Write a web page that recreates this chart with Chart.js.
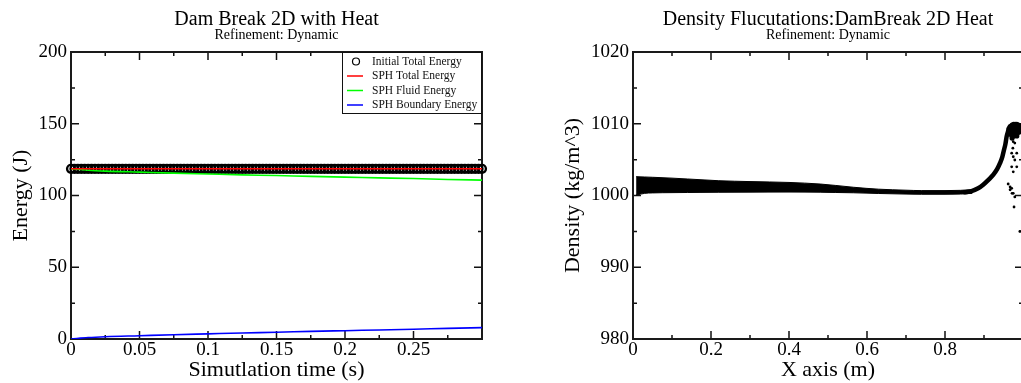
<!DOCTYPE html>
<html><head><meta charset="utf-8">
<script src="https://cdn.jsdelivr.net/npm/chart.js@4.4.1/dist/chart.umd.min.js"></script>
<style>
html,body{margin:0;padding:0;overflow:hidden;background:#fff;width:1021px;height:383px;}
#w1{position:absolute;left:0;top:0;width:510px;height:383px;}
#w2{position:absolute;left:510px;top:0;width:520px;height:383px;}
canvas{display:block;}
</style></head><body>
<div id="w1"><canvas id="c1" width="510" height="383"></canvas></div>
<div id="w2"><canvas id="c2" width="520" height="383"></canvas></div>
<script>
// ---------- Left chart data: energy ----------
const energyTime = [0, 0.0125, 0.025, 0.05, 0.075, 0.1, 0.125, 0.15, 0.175, 0.2, 0.225, 0.25, 0.275, 0.3];
const sphTotalEnergy = [118.6, 118.6, 118.6, 118.6, 118.6, 118.6, 118.6, 118.6, 118.6, 118.6, 118.6, 118.6, 118.6, 118.6];
const sphFluidEnergy = [118.6, 117.6, 117.0, 116.3, 115.6, 115.0, 114.4, 113.9, 113.3, 112.8, 112.3, 111.8, 111.2, 110.7];
const sphBoundaryEnergy = [0, 1.0, 1.6, 2.3, 3.0, 3.6, 4.2, 4.7, 5.3, 5.8, 6.3, 6.8, 7.4, 7.9];
const markerTime = [0,0.0025,0.005,0.0075,0.01,0.0125,0.015,0.0175,0.02,0.0225,0.025,0.0275,0.03,0.0325,0.035,0.0375,0.04,0.0425,0.045,0.0475,
  0.05,0.0525,0.055,0.0575,0.06,0.0625,0.065,0.0675,0.07,0.0725,0.075,0.0775,0.08,0.0825,0.085,0.0875,0.09,0.0925,0.095,0.0975,
  0.1,0.1025,0.105,0.1075,0.11,0.1125,0.115,0.1175,0.12,0.1225,0.125,0.1275,0.13,0.1325,0.135,0.1375,0.14,0.1425,0.145,0.1475,
  0.15,0.1525,0.155,0.1575,0.16,0.1625,0.165,0.1675,0.17,0.1725,0.175,0.1775,0.18,0.1825,0.185,0.1875,0.19,0.1925,0.195,0.1975,
  0.2,0.2025,0.205,0.2075,0.21,0.2125,0.215,0.2175,0.22,0.2225,0.225,0.2275,0.23,0.2325,0.235,0.2375,0.24,0.2425,0.245,0.2475,
  0.25,0.2525,0.255,0.2575,0.26,0.2625,0.265,0.2675,0.27,0.2725,0.275,0.2775,0.28,0.2825,0.285,0.2875,0.29,0.2925,0.295,0.2975,0.3];
const initialTotalEnergy = [118.6,118.6,118.6,118.6,118.6,118.6,118.6,118.6,118.6,118.6,118.6,118.6,118.6,118.6,118.6,118.6,118.6,118.6,118.6,118.6,
  118.6,118.6,118.6,118.6,118.6,118.6,118.6,118.6,118.6,118.6,118.6,118.6,118.6,118.6,118.6,118.6,118.6,118.6,118.6,118.6,
  118.6,118.6,118.6,118.6,118.6,118.6,118.6,118.6,118.6,118.6,118.6,118.6,118.6,118.6,118.6,118.6,118.6,118.6,118.6,118.6,
  118.6,118.6,118.6,118.6,118.6,118.6,118.6,118.6,118.6,118.6,118.6,118.6,118.6,118.6,118.6,118.6,118.6,118.6,118.6,118.6,
  118.6,118.6,118.6,118.6,118.6,118.6,118.6,118.6,118.6,118.6,118.6,118.6,118.6,118.6,118.6,118.6,118.6,118.6,118.6,118.6,
  118.6,118.6,118.6,118.6,118.6,118.6,118.6,118.6,118.6,118.6,118.6,118.6,118.6,118.6,118.6,118.6,118.6,118.6,118.6,118.6,118.6];
const energyXMajor = [0, 0.05, 0.1, 0.15, 0.2, 0.25, 0.3];
const energyXMinor = [0.025, 0.075, 0.125, 0.175, 0.225, 0.275];
const energyYMajor = [0, 50, 100, 150, 200];
const energyYMinor = [25, 75, 125, 175];

// ---------- Right chart data: density ----------
const bandX     = [0.008, 0.03, 0.05, 0.1, 0.14, 0.2, 0.22, 0.3, 0.4, 0.48, 0.52, 0.565, 0.63, 0.7, 0.74, 0.8, 0.84, 0.87];
const bandUpper = [1002.63, 1002.58, 1002.54, 1002.42, 1002.3, 1002.12, 1002.06, 1001.94, 1001.82, 1001.6, 1001.4, 1001.15, 1000.88, 1000.74, 1000.68, 1000.68, 1000.72, 1000.82];
const bandLower = [1000.05, 1000.3, 1000.36, 1000.4, 1000.42, 1000.44, 1000.45, 1000.47, 1000.48, 1000.46, 1000.42, 1000.38, 1000.28, 1000.2, 1000.17, 1000.17, 1000.2, 1000.3];
const riseX = [0.85, 0.868, 0.885, 0.898, 0.912, 0.924, 0.934, 0.941, 0.947, 0.951, 0.955, 0.958, 0.962, 0.966];
const riseY = [1000.45, 1000.6, 1001.0, 1001.5, 1002.2, 1002.9, 1003.7, 1004.5, 1005.4, 1006.3, 1007.2, 1008.2, 1009.0, 1009.6];
const blobX = [0.964,0.968,0.972,0.976,0.980,0.984,0.988,0.991,0.966,0.970,0.974,0.978,0.982,0.986,0.990,0.969,0.973,0.977,0.981,0.985,0.989,0.972,0.976,0.980,0.984];
const blobY = [1009.3,1009.6,1009.8,1009.9,1009.9,1009.9,1009.8,1009.7,1008.9,1009.2,1009.4,1009.5,1009.5,1009.4,1009.3,1008.5,1008.8,1009.0,1009.0,1008.9,1008.8,1008.0,1008.3,1008.5,1008.3];
const sprayX = [0.971, 0.979, 0.975, 0.974, 0.984, 0.971, 0.975, 0.979, 0.984, 0.971, 0.975, 0.962, 0.967, 0.971, 0.967, 0.975, 0.972, 0.979, 0.977, 0.992];
const sprayY = [1008.2, 1007.3, 1007.5, 1006.6, 1005.9, 1005.9, 1005.4, 1004.95, 1004.0, 1004.0, 1003.3, 1001.6, 1001.2, 1001.0, 1000.8, 1000.3, 1000.3, 999.8, 998.4, 995.0];
const densXMajor = [0, 0.2, 0.4, 0.6, 0.8, 1.0];
const densXMinor = [0.1, 0.3, 0.5, 0.7, 0.9];
const densYMajor = [980, 990, 1000, 1010, 1020];
const densYMinor = [985, 995, 1005, 1015];

const SERIF = "'Liberation Serif', 'Times New Roman', serif";
const pts = (xs, ys) => xs.map((x, i) => ({x: x, y: ys[i]}));

// frame + inward ticks on all four sides
const frameTicks = {
  id: 'frameTicks',
  beforeDatasetsDraw(chart, args, o) {
    const {ctx, chartArea: a, scales: {x, y}} = chart;
    ctx.save();
    ctx.strokeStyle = '#111';
    ctx.lineWidth = 1.5;
    ctx.beginPath();
    const vt = (v, len) => { const p = x.getPixelForValue(v);
      ctx.moveTo(p, a.bottom); ctx.lineTo(p, a.bottom - len);
      ctx.moveTo(p, a.top); ctx.lineTo(p, a.top + len); };
    const ht = (v, len) => { const p = y.getPixelForValue(v);
      ctx.moveTo(a.left, p); ctx.lineTo(a.left + len, p);
      ctx.moveTo(a.right, p); ctx.lineTo(a.right - len, p); };
    o.xMajor.forEach(v => vt(v, 8)); o.xMinor.forEach(v => vt(v, 4));
    o.yMajor.forEach(v => ht(v, 8)); o.yMinor.forEach(v => ht(v, 4));
    ctx.stroke();
    ctx.lineWidth = 2;
    ctx.strokeStyle = '#1a1a1a';
    ctx.strokeRect(a.left, a.top, a.right - a.left, a.bottom - a.top);
    ctx.restore();
  }
};

const legendBox = {
  id: 'legendBox',
  afterDatasetsDraw(chart, args, o) {
    if (!o.show) return;
    const {ctx, chartArea: a} = chart;
    const L = a.right - o.width, T = a.top, B = a.top + o.height;
    ctx.save();
    ctx.fillStyle = '#fff';
    ctx.fillRect(L, T, a.right - L, B - T);
    ctx.strokeStyle = '#111'; ctx.lineWidth = 1;
    ctx.strokeRect(L + 0.5, T + 0.5, a.right - L - 1, B - T - 1);
    ctx.font = '11.5px ' + SERIF;
    ctx.textBaseline = 'middle';
    chart.data.datasets.forEach((d, i) => {
      const yy = T + o.rows[i];
      if (d.showLine === false) {
        ctx.beginPath(); ctx.arc(L + 14, yy, 3.5, 0, Math.PI * 2);
        ctx.strokeStyle = '#000'; ctx.lineWidth = 1.2; ctx.stroke();
      } else {
        ctx.beginPath(); ctx.moveTo(L + 5, yy); ctx.lineTo(L + 21, yy);
        ctx.strokeStyle = d.borderColor; ctx.lineWidth = 1.5; ctx.stroke();
      }
      ctx.fillStyle = '#111';
      ctx.fillText(d.label, L + 30, yy);
    });
    ctx.restore();
  }
};

function fmt(v) { return String(parseFloat(Number(v).toFixed(4))); }

function makeScales(c) {
  return {
    x: {
      type: 'linear', position: 'bottom', min: c.xmin, max: c.xmax,
      grid: {display: false, drawTicks: false}, border: {display: false},
      ticks: {stepSize: c.xstep, padding: 0, color: '#000', maxRotation: 0, autoSkip: false,
        font: {family: SERIF, size: 19},
        callback: v => (Math.abs(v - c.xmax) < 1e-9 ? '' : fmt(v))},
      title: {display: true, text: c.xTitle, color: '#000', font: {family: SERIF, size: 22}, padding: {top: 0, bottom: 0}},
      afterFit(s) { s.height = 44; }
    },
    y: {
      type: 'linear', position: 'left', min: c.ymin, max: c.ymax,
      grid: {display: false, drawTicks: false}, border: {display: false},
      ticks: {stepSize: c.ystep, padding: 4, color: '#000', autoSkip: false,
        font: {family: SERIF, size: 19}, callback: v => fmt(v)},
      title: {display: true, text: c.yTitle, color: '#000', font: {family: SERIF, size: 22}, padding: {top: c.yTitlePad, bottom: 0}},
      afterFit(s) { s.width = c.yWidth; }
    }
  };
}

function titles(t) {
  return {
    legend: {display: false},
    tooltip: {enabled: false},
    title: {display: true, text: t, color: '#000', fullSize: false,
      font: {family: SERIF, size: 20, weight: 'normal', lineHeight: 0.9}, padding: {top: 11, bottom: 0}},
    subtitle: {display: true, text: 'Refinement: Dynamic', color: '#000', fullSize: false,
      font: {family: SERIF, size: 14, weight: 'normal', lineHeight: 0.9}, padding: {top: 0, bottom: 10.4}}
  };
}

new Chart(document.getElementById('c1'), {
  type: 'line',
  data: {
    datasets: [
      {label: 'Initial Total Energy', data: pts(markerTime, initialTotalEnergy), showLine: false,
        pointRadius: 3.9, pointBorderWidth: 2.4, pointBorderColor: '#000', pointBackgroundColor: 'rgba(0,0,0,0)',
        borderColor: '#000', order: 10, clip: false},
      {label: 'SPH Total Energy', data: pts(energyTime, sphTotalEnergy), borderColor: '#ff0000', borderWidth: 1.6,
        pointRadius: 0, order: 1, fill: false},
      {label: 'SPH Fluid Energy', data: pts(energyTime, sphFluidEnergy), borderColor: '#00ff00', borderWidth: 1.6,
        pointRadius: 0, order: 2, fill: false, cubicInterpolationMode: 'monotone'},
      {label: 'SPH Boundary Energy', data: pts(energyTime, sphBoundaryEnergy), borderColor: '#0000ff', borderWidth: 1.6,
        pointRadius: 0, order: 3, fill: false, cubicInterpolationMode: 'monotone'}
    ]
  },
  options: {
    responsive: false, animation: false, events: [],
    layout: {padding: {left: 0, right: 28, top: 0, bottom: 0}},
    scales: makeScales({xmin: 0, xmax: 0.3, xstep: 0.05, ymin: 0, ymax: 200, ystep: 50,
      xTitle: 'Simutlation time (s)', yTitle: 'Energy (J)', yTitlePad: 8, yWidth: 71}),
    plugins: Object.assign(titles('Dam Break 2D with Heat'), {
      frameTicks: {xMajor: energyXMajor, xMinor: energyXMinor, yMajor: energyYMajor, yMinor: energyYMinor},
      legendBox: {show: true, width: 140, height: 62, rows: [9.5, 24, 38.5, 53]}
    })
  },
  plugins: [frameTicks, legendBox]
});

new Chart(document.getElementById('c2'), {
  type: 'line',
  data: {
    datasets: [
      {label: 'band upper', data: pts(bandX, bandUpper), borderColor: '#000', borderWidth: 1, pointRadius: 0,
        fill: '+1', backgroundColor: '#000', cubicInterpolationMode: 'monotone'},
      {label: 'band lower', data: pts(bandX, bandLower), borderColor: '#000', borderWidth: 1, pointRadius: 0,
        fill: false, cubicInterpolationMode: 'monotone'},
      {label: 'rise', data: pts(riseX, riseY), borderColor: '#000', borderWidth: 4.5, pointRadius: 0,
        fill: false, cubicInterpolationMode: 'monotone', borderCapStyle: 'round'},
      {label: 'blob', data: pts(blobX, blobY), showLine: false, pointRadius: 2.6, pointBorderWidth: 0,
        pointBackgroundColor: '#000', clip: false},
      {label: 'spray', data: pts(sprayX, sprayY), showLine: false, pointRadius: 1.4, pointBorderWidth: 0,
        pointBackgroundColor: '#000', clip: false}
    ]
  },
  options: {
    responsive: false, animation: false, events: [],
    layout: {padding: {left: 0, right: 7, top: 0, bottom: 0}},
    scales: makeScales({xmin: 0, xmax: 1.0, xstep: 0.2, ymin: 980, ymax: 1020, ystep: 10,
      xTitle: 'X axis (m)', yTitle: 'Density (kg/m^3)', yTitlePad: 50, yWidth: 123}),
    plugins: Object.assign(titles('Density Flucutations:DamBreak 2D Heat'), {
      frameTicks: {xMajor: densXMajor, xMinor: densXMinor, yMajor: densYMajor, yMinor: densYMinor},
      legendBox: {show: false}
    })
  },
  plugins: [frameTicks, legendBox]
});
</script></body></html>
